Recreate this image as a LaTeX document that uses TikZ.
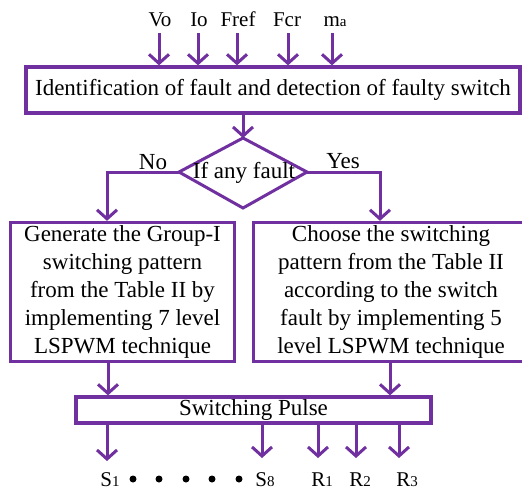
\documentclass[tikz,border=0pt]{standalone}
\usepackage{fontspec}
\setmainfont{Liberation Serif}
\usetikzlibrary{arrows.meta}
\definecolor{fpurple}{RGB}{112,48,160}
\tikzset{
  box/.style={draw=fpurple, line width=3.3pt, rectangle, inner sep=0pt, align=center,
    font=\fontsize{23}{28}\selectfont},
  arr/.style={draw=fpurple, line width=3pt, -{Straight Barb[length=9pt,width=20pt]}},
  conn/.style={draw=fpurple, line width=3pt},
  lbl/.style={inner sep=0pt, anchor=base, font=\fontsize{21}{21}\selectfont},
  txt/.style={inner sep=0pt, font=\fontsize{23}{28}\selectfont}
}
\newcommand{\smalld}[1]{{\fontsize{15}{15}\selectfont #1}}
\begin{document}
\begin{tikzpicture}[x=1pt,y=-1pt]
\useasboundingbox (0,0) rectangle (522,491);
% input labels
\node[lbl] (lv) at (160,26) {Vo};
\node[lbl] (li) at (199,26) {Io};
\node[lbl] (lf) at (238,26) {Fref};
\node[lbl] (lc) at (287,26) {Fcr};
\node[lbl] (lm) at (335,26) {m\smalld{a}};
% top box
\node[box, minimum width=494pt, minimum height=46pt] (top) at (273,90) {Identification of fault and detection of faulty switch};
% input arrows
\foreach \n/\x in {v/159,i/198,f/237,c/288,m/332}{
  \coordinate (s\n) at (\x,33);
  \draw[arr] (s\n) -- (s\n |- top.north);
}
% diamond
\coordinate (dT) at (243,138);
\coordinate (dR) at (307,172);
\coordinate (dB) at (243,208);
\coordinate (dL) at (179,172);
\draw[conn, line join=miter] (dT) -- (dR) -- (dB) -- (dL) -- cycle;
\node[txt] (fault) at (244,173) {If any fault};
\draw[arr] (top.south -| dT) -- (dT);
% left and right boxes
\node[box, minimum width=224pt, minimum height=139pt] (left) at (122.5,292)
  {Generate the Group-I\\switching pattern\\from the Table II by\\implementing 7 level\\LSPWM technique};
\node[box, minimum width=275pt, minimum height=139pt] (right) at (391,292)
  {Choose the switching\\pattern from the Table II\\according to the switch\\fault by implementing 5\\level LSPWM technique};
\coordinate (nL) at (107,172);
\coordinate (nR) at (380,172);
\draw[arr] (dL) -- (nL) -- (nL |- left.north);
\draw[arr] (dR) -- (nR) -- (nR |- right.north);
\node[txt] (no) at (153,162) {No};
\node[txt] (yes) at (343,161) {Yes};
% switching pulse
\node[box, minimum width=355pt, minimum height=26pt] (sw) at (253.5,410) {Switching Pulse};
\coordinate (a1) at (108,363);
\coordinate (a2) at (390,363);
\draw[arr] (a1) -- (a1 |- sw.north);
\draw[arr] (a2) -- (a2 |- sw.north);
% outputs
\coordinate (o1) at (107,461);
\coordinate (o2) at (262,458);
\coordinate (o3) at (318,458);
\coordinate (o4) at (356,458);
\coordinate (o5) at (399,458);
\foreach \k in {1,...,5}{
  \draw[arr] (o\k |- sw.south) -- (o\k);
}
\node[lbl] (s1) at (110,486) {S\smalld{1}};
\node[lbl] (s8) at (265,486) {S\smalld{8}};
\node[lbl] (r1) at (322,486) {R\smalld{1}};
\node[lbl] (r2) at (360,486) {R\smalld{2}};
\node[lbl] (r3) at (407,486) {R\smalld{3}};
\foreach \x in {133,159,186,212,239}{
  \fill (\x,479) circle (3.5pt);
}
\end{tikzpicture}
\end{document}
